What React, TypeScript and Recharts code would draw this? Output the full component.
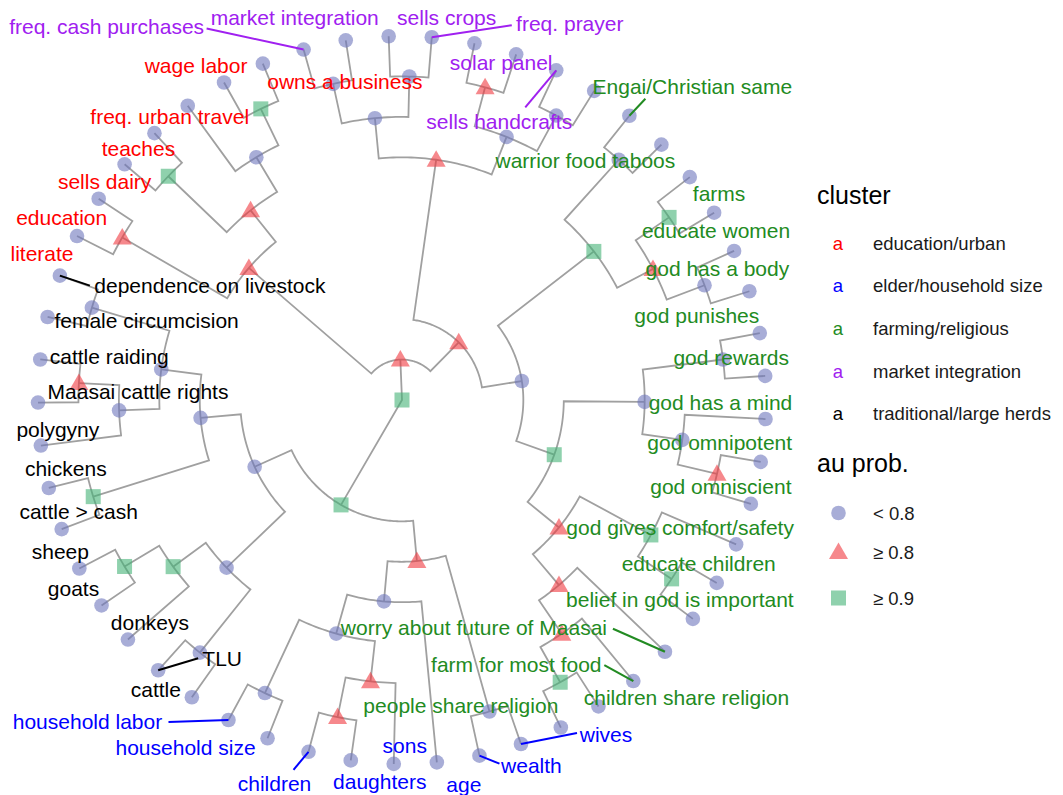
import React from 'react';
import { ScatterChart, Scatter, XAxis, YAxis } from 'recharts';

// ---------------- data ----------------
// leaves in clockwise order around the circle ('' = label not shown)
const leafNames: string[] = [
  'literate', 'education', 'sells dairy', 'teaches', 'freq. urban travel', 'wage labor', 'owns a business',
  'freq. cash purchases', 'market integration', 'sells crops', 'freq. prayer', '', 'solar panel', 'sells handcrafts', '',
  'Engai/Christian same', 'warrior food taboos', '', 'farms', 'educate women', 'god has a body', 'god punishes',
  'god rewards', 'god has a mind', 'god omnipotent', 'god omniscient', 'god gives comfort/safety', 'educate children',
  'belief in god is important', 'worry about future of Maasai', 'farm for most food', 'children share religion',
  'people share religion',
  'wives', 'wealth', 'age', 'sons', 'daughters', 'children', 'household size', 'household labor',
  'cattle', 'TLU', 'donkeys', 'goats', 'sheep', 'cattle > cash', 'chickens', 'polygyny', 'Maasai cattle rights',
  'cattle raiding', 'female circumcision', 'dependence on livestock',
];

const clusterNames: string[] = [
  'education/urban', 'elder/household size', 'farming/religious', 'market integration', 'traditional/large herds',
];

// cluster index of every leaf
const leafClusters: number[] = [
  0, 0, 0, 0, 0, 0, 0,
  3, 3, 3, 3, 3, 3, 3, 3,
  2, 2, 2, 2, 2, 2, 2, 2, 2, 2, 2, 2, 2, 2, 2, 2, 2, 2,
  1, 1, 1, 1, 1, 1, 1, 1,
  4, 4, 4, 4, 4, 4, 4, 4, 4, 4, 4, 4,
];

const auLabels: string[] = ['< 0.8', '\u2265 0.8', '\u2265 0.9'];

// merges: [id, childA, childB, au class]  (numbers = leaves)
const merges: [string, number | string, number | string, number][] = [
  ['m0_1', 0, 1, 1],
  ['m2_3', 2, 3, 2],
  ['m5_6', 5, 6, 2],
  ['m4_6', 4, 'm5_6', 0],
  ['m2_6', 'm4_6', 'm2_3', 1],
  ['red', 'm0_1', 'm2_6', 1],
  ['m7_8', 7, 8, 0],
  ['m9_10', 9, 10, 0],
  ['m7_10', 'm7_8', 'm9_10', 0],
  ['m11_12', 11, 12, 1],
  ['m13_14', 13, 14, 0],
  ['m11_14', 'm11_12', 'm13_14', 0],
  ['purple', 'm7_10', 'm11_14', 1],
  ['m15_16', 15, 16, 0],
  ['m17_18', 17, 18, 2],
  ['m19_20', 19, 20, 0],
  ['m17_20', 'm17_18', 'm19_20', 1],
  ['m15_20', 'm15_16', 'm17_20', 2],
  ['m21_22', 21, 22, 0],
  ['m24_25', 24, 25, 1],
  ['m23_25', 23, 'm24_25', 0],
  ['m21_25', 'm21_22', 'm23_25', 0],
  ['m27_28', 27, 28, 2],
  ['m26_28', 26, 'm27_28', 2],
  ['m31_32', 31, 32, 2],
  ['m30_32', 30, 'm31_32', 1],
  ['m29_32', 29, 'm30_32', 1],
  ['m26_32', 'm26_28', 'm29_32', 1],
  ['m21_32', 'm21_25', 'm26_32', 2],
  ['green', 'm15_20', 'm21_32', 0],
  ['m7_32', 'purple', 'green', 1],
  ['m0_32', 'red', 'm7_32', 1],
  ['m33_34', 33, 34, 0],
  ['m37_38', 37, 38, 1],
  ['m36_38', 36, 'm37_38', 1],
  ['m39_40', 39, 40, 0],
  ['m36_40', 'm39_40', 'm36_38', 0],
  ['m35_40', 'm36_40', 35, 0],
  ['blue', 'm35_40', 'm33_34', 1],
  ['m49_50', 49, 50, 1],
  ['m48_50', 'm49_50', 48, 0],
  ['m51_52', 51, 52, 0],
  ['m48_52', 'm51_52', 'm48_50', 0],
  ['m46_47', 46, 47, 2],
  ['m46_52', 'm48_52', 'm46_47', 0],
  ['m44_45', 44, 45, 2],
  ['m43_45', 'm44_45', 43, 2],
  ['m41_42', 41, 42, 0],
  ['m41_45', 'm43_45', 'm41_42', 0],
  ['black', 'm46_52', 'm41_45', 0],
  ['m33_52', 'blue', 'black', 2],
  ['root', 'm0_32', 'm33_52', 2],
];

// ---------------- styles / layout ----------------
const W = 1063;
const H = 795;
const X_MIN = -402;
const X_MAX = W + X_MIN;
const Y_MAX = 400;
const Y_MIN = Y_MAX - H;
const R_LEAF = 364;
const START_DEG = 153.23;
const FONT = '"Liberation Sans", Arial, Helvetica, sans-serif';
const clusterColors = ['#ff0000', '#0000ff', '#228b22', '#a020f0', '#000000'];
const EDGE = '#a0a0a0';
const AU_FILL = ['#6e77bd', '#f0393f', '#45b376'];
const AU_OPACITY = 0.6;

// label centre offsets from the leaf point (px), and optional leader end offsets
const labelOffset: Record<number, [number, number]> = {
  0: [-35, 17], 1: [-37, 19], 2: [-20, 17], 3: [-16, 15], 4: [-18, 11], 5: [-28, -17], 6: [82, 18],
  7: [-197, -23], 8: [-51, -23], 9: [58, -19], 10: [138, -14], 12: [-15, 8], 13: [-57, 51],
  15: [63, -29], 16: [-76, 16], 18: [5, -19], 19: [-18, -20], 20: [-32, -23], 21: [-63, -18],
  22: [-34, -18], 23: [-45, -17], 24: [-41, -19], 25: [-30, -17], 26: [-56, -17], 27: [-18, -19],
  28: [-13, -19], 29: [-191, -24], 30: [-117, -17], 31: [88, -9], 32: [-100, -22],
  33: [85, -10], 34: [52, 10], 35: [27, 22], 36: [11, -18], 37: [29, 21], 38: [-34, 32],
  39: [-82, 9], 40: [-141, 2],
  41: [-36, -8], 42: [64, -12], 43: [22, -17], 44: [-28, -17], 45: [-19, -17], 46: [17, -18],
  47: [17, -19], 48: [17, -16], 49: [100, -11], 50: [69, -3], 51: [99, 4], 52: [150, 10],
};
const leaderEnd: Record<number, [number, number]> = {
  7: [-97, -21], 10: [80, -12], 13: [-31, 37], 15: [16, -17], 29: [-52, -23], 30: [-29, -16],
  33: [56, -11], 34: [20, 8], 38: [-15, 18], 40: [-60, 2], 42: [40, -12], 52: [30, 10],
};

// ---------------- layout computation ----------------
const N = leafNames.length;
const STEP = 360 / N;
type Pos = { idx: number; h: number };
const info: Record<string, Pos> = {};
const getPos = (ref: number | string): Pos => (typeof ref === 'number' ? { idx: ref, h: 0 } : info[ref]);
merges.forEach(([id, a, b]) => {
  const A = getPos(a);
  const B = getPos(b);
  info[id] = { idx: (A.idx + B.idx) / 2, h: Math.max(A.h, B.h) + 1 };
});
const TOP = info['root'].h;
const radius = (h: number) => ((TOP - h) / TOP) * R_LEAF;
const toXY = (r: number, idx: number) => {
  const a = ((START_DEG - idx * STEP) * Math.PI) / 180;
  return { x: r * Math.cos(a), y: r * Math.sin(a) };
};

const edgePaths = merges.map(([id, a, b]) => {
  const P = info[id];
  const A = getPos(a);
  const B = getPos(b);
  const rp = radius(P.h);
  const pts = [toXY(radius(A.h), A.idx)];
  const n = Math.max(2, Math.ceil(Math.abs(B.idx - A.idx) * 8));
  for (let k = 0; k <= n; k++) pts.push(toXY(rp, A.idx + ((B.idx - A.idx) * k) / n));
  pts.push(toXY(radius(B.h), B.idx));
  return { id, pts };
});

const nodePoints = merges.map(([id, , , au]) => ({ ...toXY(radius(info[id].h), info[id].idx), au }));
const leafPoints = leafNames.map((name, i) => ({ ...toXY(R_LEAF, i), i, name, cluster: leafClusters[i] }));
const labelPoints = leafPoints.filter((p) => p.name !== '');

// ---------------- shapes ----------------
const Nothing = () => <g />;

const drawMarker = (au: number, cx: number, cy: number, key?: string | number) => {
  if (au === 1) {
    return (
      <polygon key={key} points={`${cx},${cy - 9.5} ${cx - 9.5},${cy + 7} ${cx + 9.5},${cy + 7}`}
        fill={AU_FILL[1]} fillOpacity={AU_OPACITY} />
    );
  }
  if (au === 2) {
    return <rect key={key} x={cx - 7.5} y={cy - 7.5} width={15} height={15} fill={AU_FILL[2]} fillOpacity={AU_OPACITY} />;
  }
  return <circle key={key} cx={cx} cy={cy} r={7.3} fill={AU_FILL[0]} fillOpacity={AU_OPACITY} />;
};

const NodeShape = (props: any) => drawMarker(props.payload.au, props.cx, props.cy);
const LeafShape = (props: any) => drawMarker(0, props.cx, props.cy);

const LabelShape = (props: any) => {
  const { cx, cy, payload } = props;
  const off = labelOffset[payload.i] || [0, 0];
  const lead = leaderEnd[payload.i];
  const color = clusterColors[payload.cluster];
  return (
    <g>
      {lead && (
        <line x1={cx} y1={cy} x2={cx + lead[0]} y2={cy + lead[1]} stroke={color} strokeWidth={2} />
      )}
      <text x={cx + off[0]} y={cy + off[1]} textAnchor="middle" dominantBaseline="central"
        fill={color} fontSize={21} fontFamily={FONT}>
        {payload.name}
      </text>
    </g>
  );
};

// ---------------- legend ----------------
const LegendOverlay = () => {
  const itemY = [243, 285, 328, 371, 413];
  const auY = [513, 552, 598];
  return (
    <svg width={W} height={H} style={{ position: 'absolute', left: 0, top: 0, pointerEvents: 'none' }}>
      <text x={817} y={195} fontSize={25} fontFamily={FONT} dominantBaseline="central" fill="#000">cluster</text>
      {clusterNames.map((name, i) => (
        <g key={name}>
          <text x={838} y={itemY[i]} textAnchor="middle" dominantBaseline="central" fontSize={18.5}
            fontFamily={FONT} fill={clusterColors[i]}>a</text>
          <text x={873} y={itemY[i]} dominantBaseline="central" fontSize={18.5} fontFamily={FONT} fill="#1a1a1a">{name}</text>
        </g>
      ))}
      <text x={817} y={463} fontSize={25} fontFamily={FONT} dominantBaseline="central" fill="#000">au prob.</text>
      {auLabels.map((lab, i) => (
        <g key={lab}>
          {drawMarker(i, 838.5, auY[i])}
          <text x={873} y={auY[i]} dominantBaseline="central" fontSize={18.5} fontFamily={FONT} fill="#1a1a1a">{lab}</text>
        </g>
      ))}
    </svg>
  );
};

export default function App() {
  return (
    <div style={{ position: 'absolute', left: 0, top: 0, width: W, height: H, fontFamily: FONT, background: '#fff' }}>
      <ScatterChart width={W} height={H} margin={{ top: 0, right: 0, bottom: 0, left: 0 }}>
        <XAxis type="number" dataKey="x" domain={[X_MIN, X_MAX]} hide allowDataOverflow />
        <YAxis type="number" dataKey="y" domain={[Y_MIN, Y_MAX]} hide allowDataOverflow />
        {edgePaths.map((e) => (
          <Scatter key={e.id} data={e.pts} line={{ stroke: EDGE, strokeWidth: 1.8 }} lineType="joint"
            shape={Nothing} isAnimationActive={false} legendType="none" />
        ))}
        <Scatter data={leafPoints} shape={LeafShape} isAnimationActive={false} legendType="none" />
        <Scatter data={nodePoints} shape={NodeShape} isAnimationActive={false} legendType="none" />
        <Scatter data={labelPoints} shape={LabelShape} isAnimationActive={false} legendType="none" />
      </ScatterChart>
      <LegendOverlay />
    </div>
  );
}
